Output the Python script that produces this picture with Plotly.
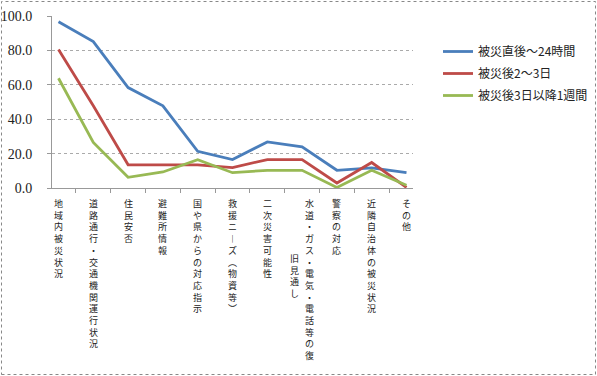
import plotly.graph_objects as go

categories = ["地域内被災状況", "道路通行・交通機関運行状況", "住民安否", "避難所情報",
              "国や県からの対応指示", "救援ニーズ（物資等）", "二次災害可能性",
              "水道・ガス・電気・電話等の復旧見通し", "警察の対応", "近隣自治体の被災状況", "その他"]
label_columns = [["地域内被災状況"], ["道路通行・交通機関運行状況"], ["住民安否"], ["避難所情報"],
                 ["国や県からの対応指示"], ["救援ニーズ（物資等）"], ["二次災害可能性"],
                 ["水道・ガス・電気・電話等の復", "旧見通し"], ["警察の対応"], ["近隣自治体の被災状況"], ["その他"]]
series_names = ["被災直後〜24時間", "被災後2〜3日", "被災後3日以降1週間"]
s1 = [96.7, 85.1, 58.4, 47.8, 21.3, 16.5, 26.8, 23.9, 10.3, 11.7, 8.9]
s2 = [80.5, 47.8, 13.5, 13.5, 13.5, 11.9, 16.5, 16.5, 2.9, 14.8, 0.3]
s3 = [63.8, 26.5, 6.2, 9.3, 16.4, 8.9, 10.3, 10.3, 0.3, 10.3, 1.6]
colors = ["#4a7ebb", "#be4b48", "#98b954"]
y_ticks = [0, 20, 40, 60, 80, 100]

W, H = 597, 376
L, R, T, B = 52, 413, 16, 188  # plot area pixel box

fig = go.Figure()
for i, (name, vals) in enumerate(zip(series_names, [s1, s2, s3])):
    fig.add_trace(go.Scatter(x=categories, y=vals, mode="lines", name=name,
                             legendgroup=str(i),
                             line=dict(color=colors[i], width=2.8)))

def py(p):
    return (B - p) / (B - T)

def px(p):
    return (p - L) / (R - L)

vmap = {"ー": "︱", "（": "︵", "）": "︶"}
annotations = []
pitch = 11.0
top = 195
for cat, cols in zip(categories, label_columns):
    main_len = len(cols[0])
    for ci, col in enumerate(cols):
        offset = (main_len - len(col)) / 2
        xshift = 0 if len(cols) == 1 else (7 if ci == 0 else -8)
        text = "<br>".join(vmap.get(ch, ch) for ch in col)
        annotations.append(dict(x=cat, xref="x", y=py(top + pitch * offset), yref="paper",
                                text=text, showarrow=False,
                                xanchor="center", yanchor="top", xshift=xshift,
                                font=dict(family="Noto Sans CJK JP", size=9, color="#222")))

fig.update_layout(
    width=W, height=H,
    margin=dict(l=L, r=W - R, t=T, b=H - B, autoexpand=False),
    paper_bgcolor="white", plot_bgcolor="white",
    showlegend=True,
    legend=dict(x=px(438), y=py(37), xanchor="left", yanchor="top",
                font=dict(family="Noto Sans CJK JP", size=12, color="#222"),
                itemwidth=30, tracegroupgap=3, traceorder="grouped",
                bgcolor="rgba(0,0,0,0)"),
    xaxis=dict(showticklabels=False, ticks="outside", ticklen=4, tickcolor="#999",
               tickson="boundaries", showgrid=False, showline=True, linecolor="#999",
               linewidth=1, zeroline=False),
    yaxis=dict(range=[0, 100], tickvals=y_ticks, tickformat=".1f", ticks="outside",
               ticklen=4, tickcolor="#999", showline=True, linecolor="#999", linewidth=1,
               showgrid=True, gridcolor="#aaa", griddash="dot", gridwidth=1,
               zeroline=False, ticklabelstandoff=12,
               tickfont=dict(family="Liberation Serif", size=14, color="#222")),
    annotations=annotations,
    shapes=[dict(type="rect", xref="paper", yref="paper",
                 x0=px(1.5), x1=px(595.5), y0=py(374.5), y1=py(1.5),
                 line=dict(color="#888", width=1, dash="dot"))],
)

fig.write_html("out.html", config={"displayModeBar": False},
               post_script="document.body.style.margin='0';document.body.style.overflow='hidden';")
